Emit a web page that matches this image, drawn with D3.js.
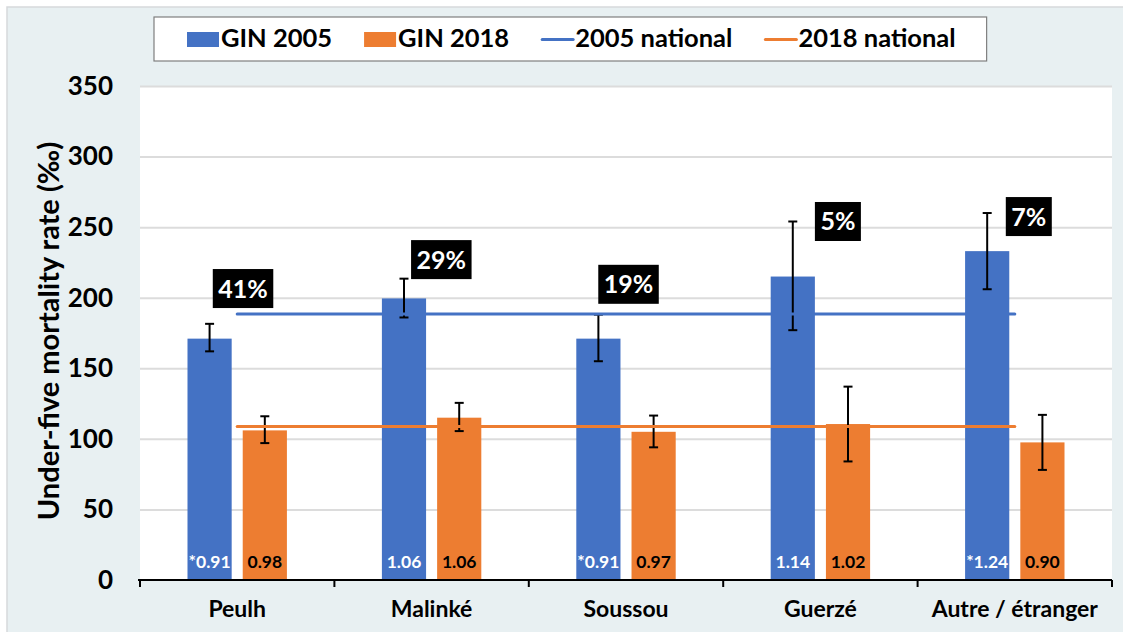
<!DOCTYPE html>
<html>
<head>
<meta charset="utf-8">
<script src="https://cdn.jsdelivr.net/npm/d3@7"></script>
<style>
  body { margin: 0; background: #fff; }
  svg text { font-family: Lato, 'Open Sans', sans-serif; font-weight: bold; }
</style>
</head>
<body>
<svg width="1123" height="632"></svg>
<script>
// data
const categories = ['Peulh', 'Malinké', 'Soussou', 'Guerzé', 'Autre / étranger'];
const series = ['GIN 2005', 'GIN 2018'];

const rate2005 = [171, 199.5, 171, 215, 233];
const low2005 = [162, 186, 155, 177, 206];
const high2005 = [181.5, 213.5, 188, 254, 260];

const rate2018 = [106, 115, 105, 110.5, 97.5];
const low2018 = [97, 105.5, 94, 84, 78];
const high2018 = [116, 125.5, 116.5, 137, 117];

const national2005 = 188.5;
const national2018 = 108.8;

const ratio2005 = ['*0.91', '1.06', '*0.91', '1.14', '*1.24'];
const ratio2018 = ['0.98', '1.06', '0.97', '1.02', '0.90'];

const shareLabels = ['41%', '29%', '19%', '5%', '7%'];
const shareAt = [206.5, 227, 209.5, 254, 257.5];     // value level of each box
const shareShift = [0.03, 0.05, 0.013, 0.09, 0.072];  // share of category width

const yTicks = [0, 50, 100, 150, 200, 250, 300, 350];

const blue = '#4472c4',
      orange = '#ed7d31',
      panel = '#e8f0f2';

const svg = d3.select('svg'),
      margin = { top: 86, right: 11, bottom: 52, left: 140 },
      width = +svg.attr('width') - margin.left - margin.right,
      height = +svg.attr('height') - margin.top - margin.bottom;

// outer panel
svg.append('rect')
    .attr('x', 7).attr('y', 7)
    .attr('width', 1130).attr('height', 640)
    .attr('fill', panel)
    .attr('stroke', '#d6d9db')
    .attr('stroke-width', 1.5);

const g = svg.append('g')
    .attr('transform', 'translate(' + margin.left + ',' + margin.top + ')');

g.append('rect')
    .attr('width', width)
    .attr('height', height)
    .attr('fill', '#fff');

const x0 = d3.scaleBand()
    .domain(categories)
    .range([0, width]);

const x1 = d3.scaleBand()
    .domain(series)
    .range([0, x0.bandwidth()])
    .paddingInner(0.2)
    .paddingOuter(0.86);

const y = d3.scaleLinear()
    .domain([0, 350])
    .range([height, 0]);

// gridlines
g.append('g')
    .call(d3.axisLeft(y).tickValues(yTicks.slice(1)).tickSize(-width).tickFormat(''))
    .call(ax => ax.select('.domain').remove())
    .call(ax => ax.selectAll('line').attr('stroke', '#dcdcdc').attr('stroke-width', 2));

// y tick labels
g.append('g')
    .call(d3.axisLeft(y).tickValues(yTicks).tickSize(0).tickPadding(27))
    .call(ax => ax.select('.domain').remove())
    .call(ax => ax.selectAll('text')
        .attr('fill', '#000')
        .style('font-size', '26px'));

// y title
svg.append('text')
    .attr('transform', 'translate(59,331) rotate(-90)')
    .attr('text-anchor', 'middle')
    .style('font-size', '29px')
    .attr('fill', '#000')
    .text('Under-five mortality rate (‰)');

const rows = categories.map((c, i) => ({
  cat: c,
  bars: [
    { s: series[0], v: rate2005[i], lo: low2005[i], hi: high2005[i], r: ratio2005[i], color: blue, txt: '#fff' },
    { s: series[1], v: rate2018[i], lo: low2018[i], hi: high2018[i], r: ratio2018[i], color: orange, txt: '#000' }
  ]
}));

const groups = g.selectAll('.grp')
    .data(rows)
  .enter().append('g')
    .attr('class', 'grp')
    .attr('transform', d => 'translate(' + x0(d.cat) + ',0)');

groups.selectAll('rect')
    .data(d => d.bars)
  .enter().append('rect')
    .attr('x', d => x1(d.s))
    .attr('y', d => y(d.v))
    .attr('width', x1.bandwidth())
    .attr('height', d => y(0) - y(d.v))
    .attr('fill', d => d.color);

// error bars
const capW = 4.5;
const err = groups.selectAll('.err')
    .data(d => d.bars)
  .enter().append('g')
    .attr('class', 'err')
    .attr('stroke', '#000')
    .attr('stroke-width', 2);

err.append('line')
    .attr('x1', d => x1(d.s) + x1.bandwidth() / 2)
    .attr('x2', d => x1(d.s) + x1.bandwidth() / 2)
    .attr('y1', d => y(d.lo))
    .attr('y2', d => y(d.hi));
err.append('line')
    .attr('x1', d => x1(d.s) + x1.bandwidth() / 2 - capW)
    .attr('x2', d => x1(d.s) + x1.bandwidth() / 2 + capW)
    .attr('y1', d => y(d.hi))
    .attr('y2', d => y(d.hi));
err.append('line')
    .attr('x1', d => x1(d.s) + x1.bandwidth() / 2 - capW)
    .attr('x2', d => x1(d.s) + x1.bandwidth() / 2 + capW)
    .attr('y1', d => y(d.lo))
    .attr('y2', d => y(d.lo));

// ratio labels inside bars
groups.selectAll('.ratio')
    .data(d => d.bars)
  .enter().append('text')
    .attr('class', 'ratio')
    .attr('x', d => x1(d.s) + x1.bandwidth() / 2)
    .attr('y', height - 12)
    .attr('text-anchor', 'middle')
    .attr('fill', d => d.txt)
    .style('font-size', '17.5px')
    .text(d => d.r);

// national lines
const xFirst = x0(categories[0]) + x0.bandwidth() / 2,
      xLast = x0(categories[categories.length - 1]) + x0.bandwidth() / 2;

[[national2005, blue], [national2018, orange]].forEach(([v, c]) => {
  g.append('line')
      .attr('x1', xFirst).attr('x2', xLast)
      .attr('y1', y(v)).attr('y2', y(v))
      .attr('stroke', c)
      .attr('stroke-width', 3)
      .attr('stroke-linecap', 'round');
});

// x axis: baseline with ticks at category boundaries
const bounds = categories.map(c => x0(c)).concat([width]);
g.append('line')
    .attr('x1', -2).attr('x2', width)
    .attr('y1', height).attr('y2', height)
    .attr('stroke', '#000')
    .attr('stroke-width', 2);
g.selectAll('.btick')
    .data(bounds)
  .enter().append('line')
    .attr('x1', d => d).attr('x2', d => d)
    .attr('y1', height).attr('y2', height + 7)
    .attr('stroke', '#000')
    .attr('stroke-width', 2);

g.append('g')
    .attr('transform', 'translate(0,' + height + ')')
    .call(d3.axisBottom(x0).tickSize(0).tickPadding(21))
    .call(ax => ax.select('.domain').remove())
    .call(ax => ax.selectAll('text')
        .attr('fill', '#000')
        .style('font-size', '23px'));

// share boxes
const share = g.selectAll('.share')
    .data(shareLabels)
  .enter().append('g')
    .attr('class', 'share')
    .attr('transform', (d, i) => 'translate(' +
        (x0(categories[i]) + x0.bandwidth() * (0.5 + shareShift[i])) + ',' + y(shareAt[i]) + ')');

share.append('text')
    .attr('text-anchor', 'middle')
    .attr('dy', '0.36em')
    .attr('fill', '#fff')
    .style('font-size', '25px')
    .text(d => d);

share.insert('rect', 'text')
    .each(function() {
      const w = this.parentNode.querySelector('text').getComputedTextLength() + 11;
      d3.select(this)
          .attr('x', -w / 2).attr('y', -19.5)
          .attr('width', w).attr('height', 39);
    })
    .attr('fill', '#000');

// legend
const legend = svg.append('g');
const legendBox = legend.append('rect')
    .attr('y', 17)
    .attr('height', 44)
    .attr('fill', '#fff')
    .attr('stroke', '#7f7f7f')
    .attr('stroke-width', 1.2);

const legendItems = [
  { label: series[0], color: blue, kind: 'box' },
  { label: series[1], color: orange, kind: 'box' },
  { label: '2005 national', color: blue, kind: 'line' },
  { label: '2018 national', color: orange, kind: 'line' }
];

let lx = 187;
legendItems.forEach(it => {
  if (it.kind === 'box') {
    legend.append('rect')
        .attr('x', lx).attr('y', 32)
        .attr('width', 32).attr('height', 15)
        .attr('fill', it.color);
  } else {
    legend.append('line')
        .attr('x1', lx + 1).attr('x2', lx + 32)
        .attr('y1', 39.5).attr('y2', 39.5)
        .attr('stroke', it.color)
        .attr('stroke-width', 3)
        .attr('stroke-linecap', 'round');
  }
  const t = legend.append('text')
      .attr('x', lx + 34)
      .attr('y', 47)
      .attr('fill', '#000')
      .style('font-size', '25.5px')
      .text(it.label);
  lx += 34 + t.node().getComputedTextLength() + 32;
});
legendBox
    .attr('x', 154)
    .attr('width', lx - 32 + 31 - 154);
</script>
</body>
</html>
